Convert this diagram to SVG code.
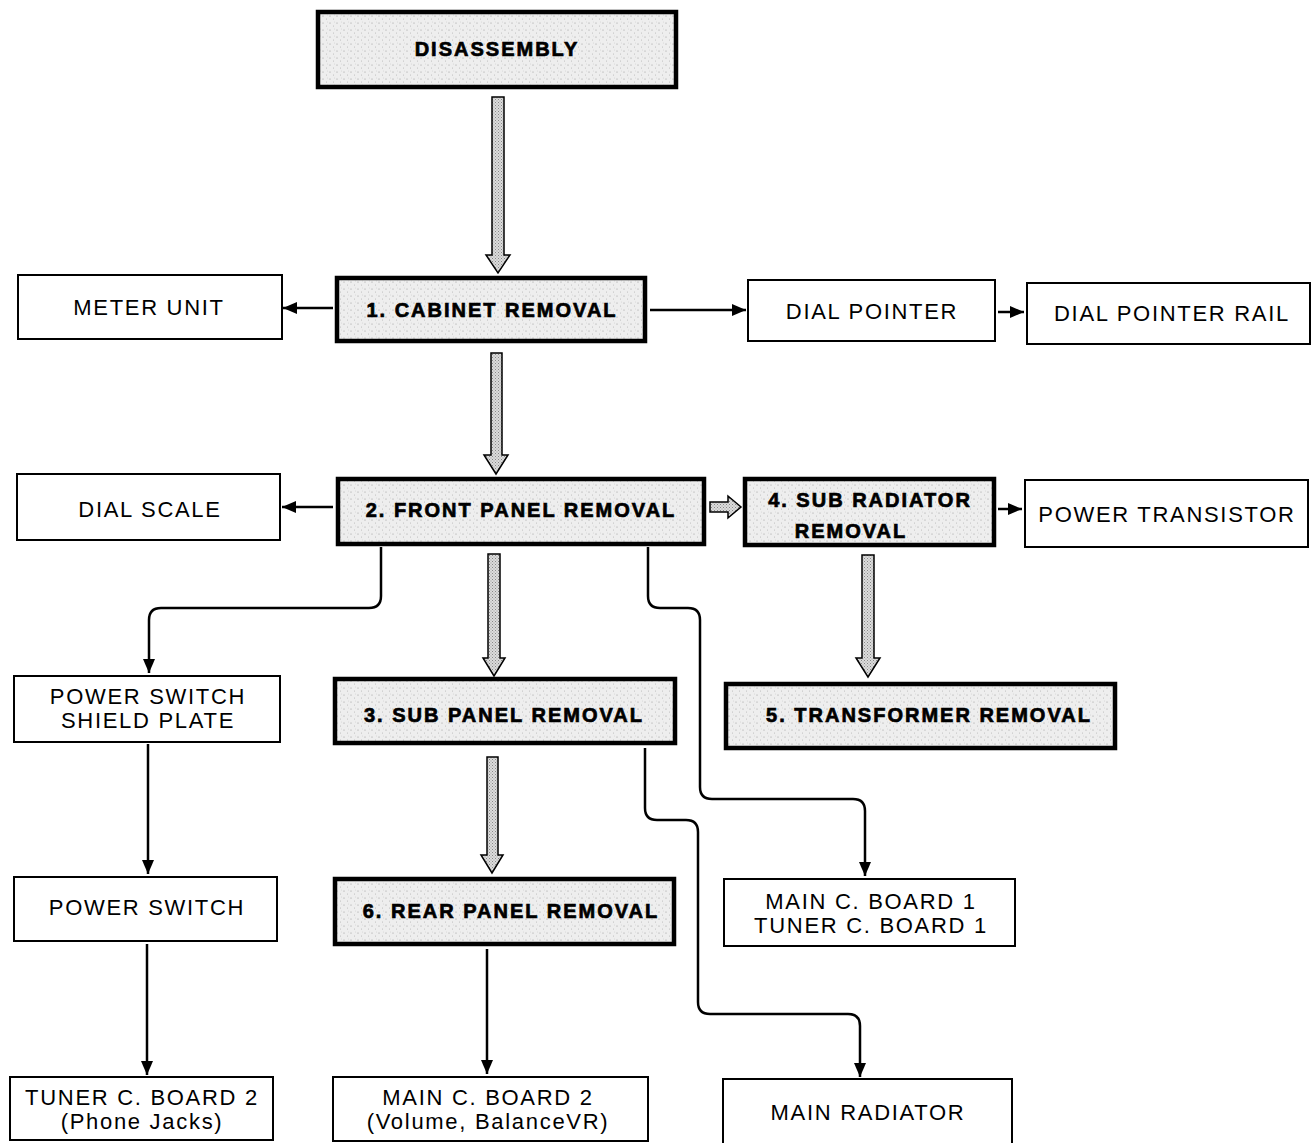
<svg xmlns="http://www.w3.org/2000/svg" width="1316" height="1143" viewBox="0 0 1316 1143">
<defs>
<pattern id="stip" width="7" height="7" patternUnits="userSpaceOnUse">
<rect width="7" height="7" fill="#eeeeee"/>
<circle cx="1" cy="2" r="0.6" fill="#9a9a9a"/>
<circle cx="4.5" cy="5" r="0.5" fill="#b0b0b0"/>
<circle cx="5.5" cy="1" r="0.4" fill="#c0c0c0"/>
</pattern>
<pattern id="stipD" width="3" height="3" patternUnits="userSpaceOnUse">
<rect width="3" height="3" fill="#dcdcdc"/>
<rect x="0" y="0" width="1" height="1" fill="#888"/>
<rect x="1.5" y="1.5" width="1" height="1" fill="#999"/>
</pattern>
<marker id="ah" markerUnits="userSpaceOnUse" markerWidth="15" markerHeight="13" refX="14" refY="6" orient="auto">
<path d="M0,0 L14,6 L0,12 z" fill="#000"/>
</marker>
<style>
.thin{fill:#fff;stroke:#000;stroke-width:2}
.bold{fill:url(#stip);stroke:#000;stroke-width:4.5}
.t{font-family:"Liberation Sans",Arial,sans-serif;font-size:22px;letter-spacing:1.7px;text-anchor:middle;fill:#000}
.b{font-family:"Liberation Sans",Arial,sans-serif;font-size:20px;font-weight:bold;letter-spacing:2px;text-anchor:middle;fill:#000;stroke:#000;stroke-width:0.7}
.ln{fill:none;stroke:#000;stroke-width:2.5;marker-end:url(#ah)}
.hol{fill:url(#stipD);stroke:#000;stroke-width:1.5;stroke-linejoin:miter}
</style>
</defs>

<g id="connectors">
<polygon class="hol" points="492,97 504,97 504,255 510,255 498,273 486,255 492,255"/>
<polygon class="hol" points="491,353 502,353 502,455 508,455 496,474 484,455 491,455"/>
<polygon class="hol" points="488,554 500,554 500,658 505,658 494,676 483,658 488,658"/>
<polygon class="hol" points="487,757 498,757 498,855 503,855 492,873 481,855 487,855"/>
<polygon class="hol" points="862,555 874,555 874,658 880,658 868,677 856,658 862,658"/>
<polygon class="hol" points="710,502 728,502 728,496 741,507 728,518 728,512 710,512"/>
<path class="ln" d="M333,308 H283"/>
<path class="ln" d="M650,310 H746"/>
<path class="ln" d="M998,312 H1024"/>
<path class="ln" d="M333,507 H282"/>
<path class="ln" d="M998,509 H1022"/>
<path class="ln" d="M148,744 V874"/>
<path class="ln" d="M147,944 V1075"/>
<path class="ln" d="M487,949 V1074"/>
<path class="ln" d="M381,547 V596 Q381,608 369,608 H161 Q149,608 149,620 V673"/>
<path class="ln" d="M648,547 V596 Q648,608 660,608 H688 Q700,608 700,620 V787 Q700,799 712,799 H853 Q865,799 865,811 V876"/>
<path class="ln" d="M645,748 V808 Q645,820 657,820 H686 Q698,820 698,832 V1002 Q698,1014 710,1014 H848 Q860,1014 860,1026 V1077"/>
</g>

<g id="disassembly"><rect class="bold" x="318" y="12" width="358" height="75"/><text class="b" x="497" y="56">DISASSEMBLY</text></g>
<g id="cabinet"><rect class="bold" x="337" y="278" width="308" height="63"/><text class="b" x="492" y="317">1. CABINET REMOVAL</text></g>
<g id="meter-unit"><rect class="thin" x="18" y="275" width="264" height="64"/><text class="t" x="149" y="315">METER UNIT</text></g>
<g id="dial-pointer"><rect class="thin" x="748" y="280" width="247" height="61"/><text class="t" x="872" y="319">DIAL POINTER</text></g>
<g id="dial-pointer-rail"><rect class="thin" x="1027" y="283" width="283" height="61"/><text class="t" x="1172" y="321">DIAL POINTER RAIL</text></g>
<g id="front-panel"><rect class="bold" x="338" y="479" width="366" height="65"/><text class="b" x="521" y="517">2. FRONT PANEL REMOVAL</text></g>
<g id="dial-scale"><rect class="thin" x="17" y="474" width="263" height="66"/><text class="t" x="150" y="517">DIAL SCALE</text></g>
<g id="sub-radiator"><rect class="bold" x="745" y="479" width="249" height="66"/><text class="b" x="870" y="507">4. SUB RADIATOR</text><text class="b" x="851" y="538">REMOVAL</text></g>
<g id="power-transistor"><rect class="thin" x="1025" y="480" width="283" height="67"/><text class="t" x="1167" y="522">POWER TRANSISTOR</text></g>
<g id="shield-plate"><rect class="thin" x="14" y="676" width="266" height="66"/><text class="t" x="148" y="704">POWER SWITCH</text><text class="t" x="148" y="728">SHIELD PLATE</text></g>
<g id="sub-panel"><rect class="bold" x="335" y="679" width="340" height="64"/><text class="b" x="504" y="722">3. SUB PANEL REMOVAL</text></g>
<g id="transformer"><rect class="bold" x="726" y="684" width="389" height="64"/><text class="b" x="929" y="722">5. TRANSFORMER REMOVAL</text></g>
<g id="power-switch"><rect class="thin" x="14" y="877" width="263" height="64"/><text class="t" x="147" y="915">POWER SWITCH</text></g>
<g id="rear-panel"><rect class="bold" x="335" y="879" width="339" height="65"/><text class="b" x="511" y="918">6. REAR PANEL REMOVAL</text></g>
<g id="main-board-1"><rect class="thin" x="724" y="879" width="291" height="67"/><text class="t" x="871" y="909">MAIN C. BOARD 1</text><text class="t" x="871" y="933">TUNER C. BOARD 1</text></g>
<g id="tuner-board-2"><rect class="thin" x="10" y="1077" width="263" height="63"/><text class="t" x="142" y="1105">TUNER C. BOARD 2</text><text class="t" x="142" y="1129">(Phone Jacks)</text></g>
<g id="main-board-2"><rect class="thin" x="333" y="1077" width="315" height="64"/><text class="t" x="488" y="1105">MAIN C. BOARD 2</text><text class="t" x="488" y="1129">(Volume, BalanceVR)</text></g>
<g id="main-radiator"><rect class="thin" x="723" y="1079" width="289" height="68"/><text class="t" x="868" y="1120">MAIN RADIATOR</text></g>
</svg>
